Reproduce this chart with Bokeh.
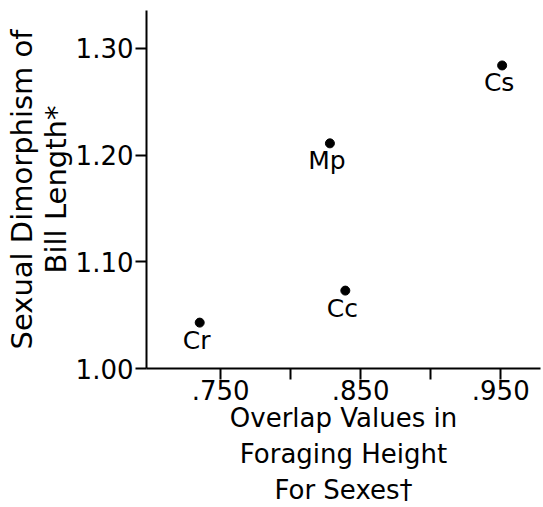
from bokeh.plotting import figure
from bokeh.models import FixedTicker, Range1d, ColumnDataSource
from bokeh.core.properties import value
from bokeh.embed import file_html
from bokeh.resources import INLINE

# ---- data ----
species = ["Cr", "Cc", "Mp", "Cs"]
overlap = [0.735, 0.839, 0.828, 0.951]
dimorphism = [1.043, 1.073, 1.211, 1.284]

x_major_ticks = [0.75, 0.85, 0.95]
x_minor_ticks = [0.80, 0.90]
x_tick_labels = [".750", ".850", ".950"]
y_ticks = [1.00, 1.10, 1.20, 1.30]
y_tick_labels = ["1.00", "1.10", "1.20", "1.30"]

x_title = "Overlap Values in\nForaging Height\nFor Sexes\u2020"
y_title = "Sexual Dimorphism of\nBill Length*"

FONT = "DejaVu Sans"

# layout (pixels)
W, H = 543, 507
LEFT, RIGHT, TOP, BOTTOM = 146, 3, 10, 138
XR = (0.697, 0.9784)
YR = (1.0, 1.3355)

p = figure(width=W, height=H, output_backend="svg", toolbar_location=None,
           x_range=Range1d(*XR), y_range=Range1d(*YR),
           min_border_left=LEFT, min_border_right=RIGHT, min_border_top=TOP,
           min_border_bottom=BOTTOM)
p.outline_line_color = None
p.grid.visible = False
p.background_fill_color = "white"
p.border_fill_color = "white"

src = ColumnDataSource(dict(x=overlap, y=dimorphism, name=species))
p.scatter("x", "y", source=src, size=9, color="black")
p.text("x", "y", text="name", source=src, text_align="center", text_baseline="top",
       x_offset=-3, y_offset=3, text_font=value(FONT), text_font_size="25px",
       text_color="black")

xa = p.xaxis[0]
xa.ticker = FixedTicker(ticks=x_major_ticks, minor_ticks=x_minor_ticks)
xa.major_label_overrides = dict(zip(x_major_ticks, x_tick_labels))
xa.major_label_text_font = FONT
xa.major_label_text_font_size = "26px"
xa.major_label_standoff = 0
xa.major_tick_in = 0
xa.major_tick_out = 11
xa.minor_tick_in = 0
xa.minor_tick_out = 11
xa.axis_label = x_title
xa.axis_label_text_font = FONT
xa.axis_label_text_font_size = "26px"
xa.axis_label_text_line_height = 1.2
xa.axis_label_standoff = 0

ya = p.yaxis[0]
ya.ticker = FixedTicker(ticks=y_ticks, minor_ticks=[])
ya.major_label_overrides = dict(zip(y_ticks, y_tick_labels))
ya.major_label_text_font = FONT
ya.major_label_text_font_size = "26px"
ya.major_label_standoff = 2
ya.major_tick_in = 0
ya.major_tick_out = 11
ya.axis_label = y_title
ya.axis_label_text_font = FONT
ya.axis_label_text_font_size = "29px"
ya.axis_label_text_line_height = 1.0
ya.axis_label_standoff = 0

for ax in (xa, ya):
    ax.axis_line_width = 2
    ax.axis_line_color = "black"
    ax.major_tick_line_width = 2
    ax.major_tick_line_color = "black"
    ax.minor_tick_line_width = 2
    ax.minor_tick_line_color = "black"
    ax.major_label_text_color = "black"
    ax.axis_label_text_color = "black"
    ax.axis_label_text_font_style = "normal"

open("out.html", "w").write(file_html(p, INLINE))
